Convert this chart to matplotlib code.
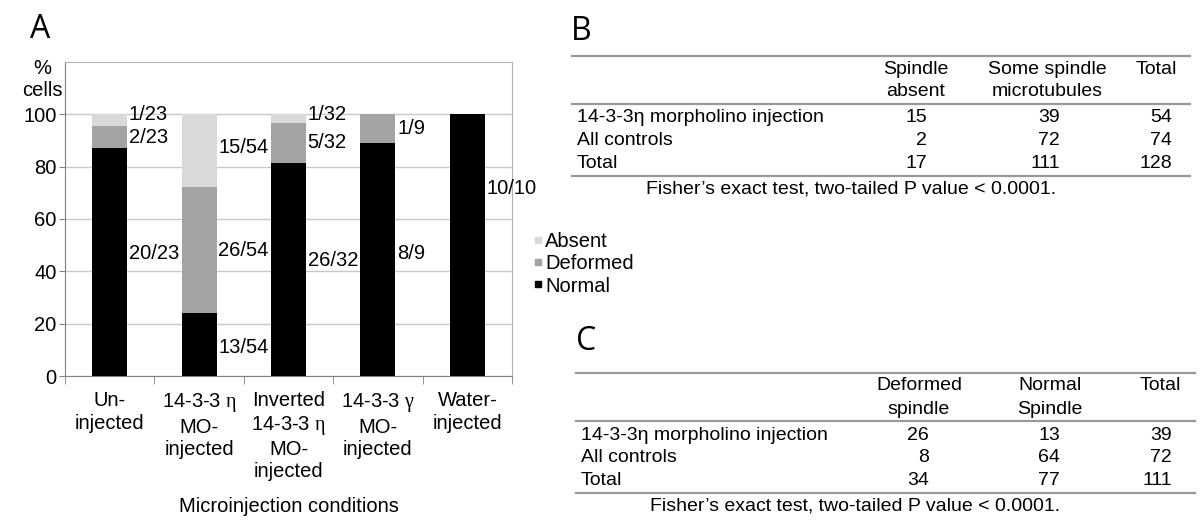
import matplotlib
matplotlib.use("Agg")
import matplotlib.pyplot as plt
import numpy as np

plt.rcParams['font.family'] = ['Liberation Sans', 'DejaVu Sans']
plt.rcParams['mathtext.fontset'] = 'custom'
plt.rcParams['mathtext.rm'] = 'Liberation Serif'
plt.rcParams['mathtext.it'] = 'Liberation Serif:italic'

# ---- data ----
conditions = ['Un-\ninjected',
              '14-3-3 $\\mathrm{\\eta}$\nMO-\ninjected',
              'Inverted\n14-3-3 $\\mathrm{\\eta}$\nMO-\ninjected',
              '14-3-3 $\\mathrm{\\gamma}$\nMO-\ninjected',
              'Water-\ninjected']
totals = np.array([23, 54, 32, 9, 10])
normal = np.array([20, 13, 26, 8, 10])
deformed = np.array([2, 26, 5, 1, 0])
absent = np.array([1, 15, 1, 0, 0])
stack_names = ['Absent', 'Deformed', 'Normal']
stack_colors = ['#d9d9d9', '#a3a3a3', '#000000']

table_b_cols = ['Spindle\nabsent', 'Some spindle\nmicrotubules', 'Total']
table_b_rows = ['14-3-3η morpholino injection', 'All controls', 'Total']
table_b_vals = [[15, 39, 54], [2, 72, 74], [17, 111, 128]]

table_c_cols = ['Deformed\nspindle', 'Normal\nSpindle', 'Total']
table_c_rows = ['14-3-3η morpholino injection', 'All controls', 'Total']
table_c_vals = [[26, 13, 39], [8, 64, 72], [34, 77, 111]]

fisher_note = "Fisher\u2019s exact test, two-tailed P value < 0.0001."

FS = 14.5   # chart text
TS = 14     # table text

fig = plt.figure(figsize=(12, 5.28), dpi=100)

# ---- panel A: stacked bars ----
ax = fig.add_axes([65 / 1200, 1 - 376 / 528, 447 / 1200, 314 / 528])
x = np.arange(len(conditions))
w = 0.39
p_norm = normal / totals * 100
p_def = deformed / totals * 100
p_abs = absent / totals * 100

ax.bar(x, p_norm, w, color=stack_colors[2], zorder=3)
ax.bar(x, p_def, w, bottom=p_norm, color=stack_colors[1], zorder=3)
ax.bar(x, p_abs, w, bottom=p_norm + p_def, color=stack_colors[0], zorder=3)

# segment labels to the right of each bar
nudge = {(0, 0): 3.5, (0, 2): 2, (2, 0): 3.5, (2, 2): 1.5, (3, 0): 2.5,
         (4, 0): 21.5, (1, 0): -1.3, (1, 2): 1.3}
for i in range(len(x)):
    bottoms = [0, p_norm[i], p_norm[i] + p_def[i]]
    counts = [normal[i], deformed[i], absent[i]]
    heights = [p_norm[i], p_def[i], p_abs[i]]
    for k in range(3):
        if counts[k] == 0:
            continue
        yy = bottoms[k] + heights[k] / 2 + nudge.get((i, k), 0)
        ax.text(x[i] + w / 2 + 0.02, yy, f'{counts[k]}/{totals[i]}',
                ha='left', va='center', fontsize=FS, zorder=4)

ax.set_xlim(-0.5, len(x) - 0.5)
ax.set_ylim(0, 120)
ax.set_yticks(np.arange(0, 101, 20))
ax.tick_params(axis='y', labelsize=FS, length=4, color='#808080', pad=2)
ax.set_xticks(x)
ax.set_xticklabels(conditions, fontsize=FS, linespacing=1.22)
ax.tick_params(axis='x', length=0, pad=11)
ax.set_xticks(np.arange(-0.5, len(x)), minor=True)
ax.tick_params(axis='x', which='minor', length=6, color='#808080')
ax.grid(axis='y', color='#c8c8c8', lw=1, zorder=0)
for s in ['left', 'bottom']:
    ax.spines[s].set_color('#808080')
for s in ['top', 'right']:
    ax.spines[s].set_color('#b0b0b0')
ax.set_xlabel('Microinjection conditions', fontsize=FS, labelpad=11)
fig.text(42 / 1200, 1 - 79 / 528, '%\ncells', ha='center', va='center',
         fontsize=FS, linespacing=1.2)

# legend
handles = [plt.Line2D([], [], ls='none', marker='s', ms=5, color=c)
           for c in stack_colors]
fig.legend(handles, stack_names, loc='center left',
           bbox_to_anchor=(524 / 1200, 1 - 264 / 528), frameon=False,
           fontsize=FS, handlelength=0.4, handletextpad=0.15,
           labelspacing=0.15, borderpad=0)

# ---- panels B and C: tables drawn in pixel coordinates ----
ov = fig.add_axes([0, 0, 1, 1])
ov.set_xlim(0, 1200)
ov.set_ylim(528, 0)
ov.axis('off')

panel_font = ['Open Sans', 'DejaVu Sans']
ov.text(30, 30, 'A', fontsize=23, family=panel_font, va='center')
ov.text(571, 31, 'B', fontsize=23, family=panel_font, va='center')
ov.text(576, 341, 'C', fontsize=23, family=panel_font, va='center')


def draw_table(cols, rows, vals, top, col_cx, col_rx, x0, x1):
    line_kw = dict(color='#9a9a9a', lw=1.6)
    ov.plot([x0, x1], [top, top], **line_kw)
    for cx, name in zip(col_cx, cols):
        for j, part in enumerate(name.split('\n')):
            ov.text(cx, top + 13 + 23 * j, part, ha='center', va='center',
                    fontsize=TS)
    ov.plot([x0, x1], [top + 48, top + 48], **line_kw)
    for r, (lab, row) in enumerate(zip(rows, vals)):
        yy = top + 62 + 22.7 * r
        ov.text(x0 + 5, yy, lab, ha='left', va='center', fontsize=TS)
        for rx, v in zip(col_rx, row):
            ov.text(rx, yy, str(v), ha='right', va='center', fontsize=TS)
    ov.plot([x0, x1], [top + 120, top + 120], **line_kw)
    ov.text((x0 + x1) / 2 - 30, top + 133, fisher_note, ha='center',
            va='center', fontsize=TS)


draw_table(table_b_cols, table_b_rows, table_b_vals, 56,
           [916, 1047, 1156], [927, 1060, 1172], 572, 1190)
draw_table(table_c_cols, table_c_rows, table_c_vals, 373,
           [919, 1050, 1160], [929, 1060, 1172], 576, 1195)

fig.savefig('out.png', dpi=100)
